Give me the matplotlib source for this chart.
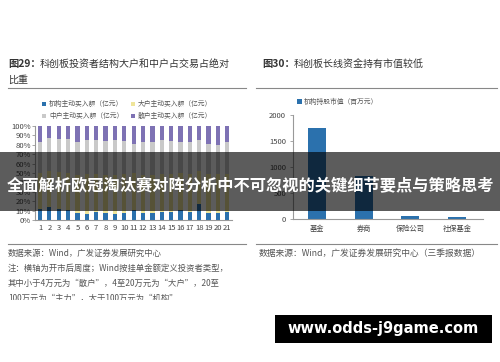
import matplotlib
matplotlib.use("Agg")
import matplotlib.pyplot as plt
from matplotlib.patches import Rectangle
import numpy as np

plt.rcParams['font.family'] = ['Noto Sans CJK SC', 'DejaVu Sans']

# ---------------- data ----------------
weeks = [str(i) for i in range(1, 22)]
inst = [11.5, 14, 12, 11, 7, 6.5, 8, 7, 6, 7.5, 10.5, 7, 7, 8, 9, 10.5, 8, 17.5, 7, 7, 9]
big = [38, 38, 39, 39, 41, 42, 41, 41, 42, 41, 39, 41, 41, 41, 40, 39, 41, 35, 42, 42, 40]
gray_top = [83, 87, 86, 86, 83, 85, 85, 84, 85, 84, 81, 83, 83, 85, 84, 83, 83, 85, 81, 80, 83]
series_names = ["机构主动买入额（亿元）", "大户主动买入额（亿元）", "中户主动买入额（亿元）", "散户主动买入额（亿元）"]

holders = ["基金", "券商", "保险公司", "社保基金"]
holding_value = [1750, 830, 50, 35]
right_series = "机构持股市值（百万元）"

W, H = 500, 362
fig = plt.figure(figsize=(W / 100, H / 100), dpi=100)
fig.patch.set_facecolor("white")

def fx(px):
    return px / W

def fy(py):
    return 1 - py / H

tc = "#444444"
blue = "#2b71ad"
yellow = "#efe59a"
grayc = "#c9c9c9"
purple = "#7e72b4"

# ---------------- left chart ----------------
inst_a = np.array(inst)
big_a = np.array(big)
mid_a = np.array(gray_top) - inst_a - big_a
ret_a = 100 - np.array(gray_top)
x = np.arange(1, 22)
axL = fig.add_axes([fx(35), fy(220), fx(232 - 35), (220 - 126) / H])
bw = 0.45
h1 = axL.bar(x, inst_a, bw, color=blue, label=series_names[0])
h2 = axL.bar(x, big_a, bw, bottom=inst_a, color=yellow, label=series_names[1])
h3 = axL.bar(x, mid_a, bw, bottom=inst_a + big_a, color=grayc, label=series_names[2])
h4 = axL.bar(x, ret_a, bw, bottom=inst_a + big_a + mid_a, color=purple, label=series_names[3])
axL.set_xlim(0.465, 21.5)
axL.set_ylim(0, 100)
axL.set_yticks(np.arange(0, 101, 10))
axL.set_yticklabels([f"{v}%" for v in range(0, 101, 10)])
axL.set_xticks(x)
axL.set_xticklabels(weeks)
for s in ["top", "right"]:
    axL.spines[s].set_visible(False)
for s in ["left", "bottom"]:
    axL.spines[s].set_color("#999999")
    axL.spines[s].set_linewidth(0.8)
axL.tick_params(axis="y", labelsize=5.5, length=2, width=0.6, color="#999999", pad=1, labelcolor=tc)
axL.tick_params(axis="x", labelsize=5.5, length=0, pad=3, labelcolor=tc)

# legend rows: (机构, 大户) / (中户, 散户) -> column-major order for ncol=2
fig.legend([h1, h3, h2, h4], [series_names[0], series_names[2], series_names[1], series_names[3]],
           ncol=2, loc="upper left",
           bbox_to_anchor=(fx(36), fy(94)), frameon=False, fontsize=4.9,
           handlelength=0.6, handleheight=0.6, columnspacing=1.2, labelspacing=0.6,
           handletextpad=0.4, labelcolor="#555555")

# ---------------- right chart ----------------
axR = fig.add_axes([fx(293), fy(219), fx(483 - 293), (219 - 115) / H])
xr = np.arange(len(holders))
hr = axR.bar(xr, holding_value, 0.39, color=blue, label=right_series)
axR.set_xlim(-0.514, 3.555)
axR.set_ylim(0, 2000)
axR.set_yticks([0, 500, 1000, 1500, 2000])
axR.set_xticks(xr)
axR.set_xticklabels(holders)
for s in ["top", "right"]:
    axR.spines[s].set_visible(False)
for s in ["left", "bottom"]:
    axR.spines[s].set_color("#999999")
    axR.spines[s].set_linewidth(0.8)
axR.tick_params(axis="y", labelsize=5.5, length=2, width=0.6, color="#999999", pad=3, labelcolor=tc)
axR.tick_params(axis="x", labelsize=5.2, length=0, pad=4, labelcolor=tc)
fig.legend([hr], [right_series], loc="center", bbox_to_anchor=(fx(338), fy(102)),
           frameon=False, fontsize=4.9, handlelength=0.6, handleheight=0.6,
           handletextpad=0.4, labelcolor="#555555")

# ---------------- titles, rules, notes ----------------
fig.text(fx(8), fy(64), "图29：", fontsize=7.4, fontweight="bold", color="#333333", va="center")
fig.text(fx(40), fy(64), "科创板投资者结构大户和中户占交易占绝对", fontsize=7.2, color="#333333", va="center")
fig.text(fx(8), fy(80), "比重", fontsize=7.2, color="#333333", va="center")
fig.text(fx(262), fy(64), "图30：", fontsize=7.4, fontweight="bold", color="#333333", va="center")
fig.text(fx(294), fy(64), "科创板长线资金持有市值较低", fontsize=7.2, color="#333333", va="center")

for (x0, x1) in [(8, 246), (256, 497)]:
    for yy in (88, 244):
        fig.add_artist(plt.Line2D([fx(x0), fx(x1)], [fy(yy), fy(yy)], color="#888888", lw=0.8))

note_kw = dict(fontsize=6.0, color="#555555", va="center")
fig.text(fx(8), fy(253), "数据来源：Wind，广发证券发展研究中心", **note_kw)
fig.text(fx(8), fy(268), "注：横轴为开市后周度；Wind按挂单金额定义投资者类型，", **note_kw)
fig.text(fx(8), fy(283), "其中小于4万元为“散户”，4至20万元为“大户”，20至", **note_kw)
fig.text(fx(8), fy(298), "100万元为“主力”，大于100万元为“机构”", **note_kw)
fig.add_artist(Rectangle((0, 0), fx(250), fy(300), transform=fig.transFigure,
                         facecolor="white", edgecolor="none", zorder=5))
fig.text(fx(259), fy(253), "数据来源：Wind，广发证券发展研究中心（三季报数据）", fontsize=6.3,
         color="#555555", va="center")

# ---------------- overlay band ----------------
fig.add_artist(Rectangle((0, fy(211)), 1, (211 - 152) / H, transform=fig.transFigure,
                         facecolor="black", alpha=0.64, edgecolor="none", zorder=10))
fig.text(0.5, fy(185), "全面解析欧冠淘汰赛对阵分析中不可忽视的关键细节要点与策略思考",
         fontsize=11.7, fontweight="bold", color="white", ha="center", va="center", zorder=11)

# ---------------- watermark ----------------
fig.add_artist(Rectangle((fx(275), fy(343)), fx(492 - 275), (343 - 315) / H,
                         transform=fig.transFigure, facecolor="black", edgecolor="none", zorder=10))
fig.text(fx(383), fy(329), "www.odds-j9game.com", fontsize=10.5, fontweight="bold",
         color="white", ha="center", va="center", zorder=11, family="DejaVu Sans")

fig.savefig("out.png", dpi=100)
